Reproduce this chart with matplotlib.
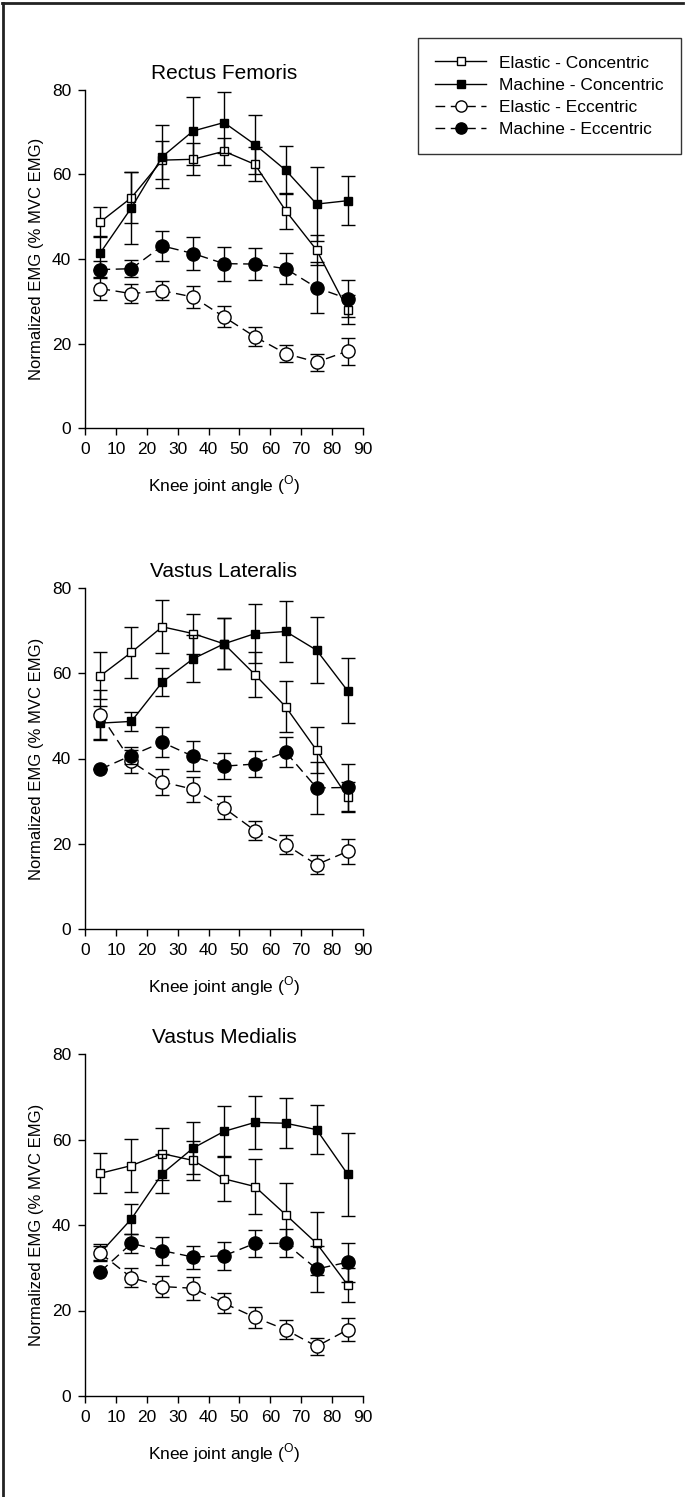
import matplotlib
matplotlib.use("Agg")
import matplotlib.pyplot as plt
from matplotlib.lines import Line2D
import numpy as np

plt.rcParams['font.family'] = ['Liberation Sans', 'DejaVu Sans']
plt.rcParams['mathtext.fontset'] = 'custom'
plt.rcParams['mathtext.rm'] = 'Liberation Sans'

angles = [5, 15, 25, 35, 45, 55, 65, 75, 85]
series_names = ["Elastic - Concentric", "Machine - Concentric",
                "Elastic - Eccentric", "Machine - Eccentric"]
muscles = ["Rectus Femoris", "Vastus Lateralis", "Vastus Medialis"]

# Rectus Femoris
rf_el_con = [48.8, 54.5, 63.4, 63.6, 65.5, 62.4, 51.4, 42.1, 28.0]
rf_el_con_err = [3.5, 6.0, 4.5, 3.8, 3.2, 4.0, 4.2, 3.5, 3.5]
rf_ma_con = [41.5, 52.1, 64.2, 70.3, 72.3, 67.1, 61.0, 53.0, 53.8]
rf_ma_con_err = [4.0, 8.5, 7.5, 8.0, 7.2, 7.0, 5.7, 8.8, 5.8]
rf_el_ecc = [33.0, 31.8, 32.5, 31.0, 26.3, 21.6, 17.6, 15.6, 18.2]
rf_el_ecc_err = [2.8, 2.2, 2.3, 2.7, 2.5, 2.3, 2.0, 2.0, 3.2]
rf_ma_ecc = [37.5, 37.7, 43.1, 41.3, 38.9, 38.8, 37.7, 33.2, 30.6]
rf_ma_ecc_err = [2.0, 2.0, 3.5, 3.8, 4.0, 3.7, 3.7, 6.0, 4.4]

# Vastus Lateralis
vl_el_con = [59.4, 64.9, 70.9, 69.3, 66.9, 59.7, 52.1, 41.9, 31.0]
vl_el_con_err = [5.5, 5.9, 6.2, 4.7, 6.0, 5.3, 6.0, 5.4, 3.5]
vl_ma_con = [48.3, 48.7, 57.9, 63.4, 66.9, 69.3, 69.8, 65.4, 55.9]
vl_ma_con_err = [4.0, 2.2, 3.3, 5.5, 6.0, 6.9, 7.2, 7.7, 7.6]
vl_el_ecc = [50.3, 39.3, 34.5, 32.8, 28.4, 23.1, 19.8, 15.1, 18.2]
vl_el_ecc_err = [5.8, 2.7, 3.0, 2.9, 2.7, 2.2, 2.3, 2.2, 3.0]
vl_ma_ecc = [37.5, 40.7, 43.8, 40.5, 38.2, 38.7, 41.5, 33.1, 33.2]
vl_ma_ecc_err = [0.0, 2.0, 3.5, 3.5, 3.1, 3.1, 3.6, 6.1, 5.4]

# Vastus Medialis
vm_el_con = [52.1, 53.9, 56.7, 55.1, 50.8, 49.0, 42.4, 35.7, 26.0]
vm_el_con_err = [4.7, 6.2, 6.1, 4.5, 5.3, 6.4, 7.4, 7.3, 3.9]
vm_ma_con = [33.5, 41.4, 52.0, 58.0, 61.9, 64.0, 63.8, 62.3, 51.9]
vm_ma_con_err = [2.0, 3.5, 4.5, 6.0, 6.0, 6.2, 5.8, 5.7, 9.7]
vm_el_ecc = [33.4, 27.7, 25.6, 25.2, 21.7, 18.4, 15.5, 11.6, 15.5]
vm_el_ecc_err = [1.7, 2.2, 2.5, 2.7, 2.4, 2.4, 2.2, 1.9, 2.7]
vm_ma_ecc = [29.1, 35.7, 34.0, 32.5, 32.8, 35.7, 35.7, 29.7, 31.3]
vm_ma_ecc_err = [0.0, 2.3, 3.3, 2.7, 3.3, 3.2, 3.3, 5.3, 4.6]

panel_data = [
    [(rf_el_con, rf_el_con_err), (rf_ma_con, rf_ma_con_err),
     (rf_el_ecc, rf_el_ecc_err), (rf_ma_ecc, rf_ma_ecc_err)],
    [(vl_el_con, vl_el_con_err), (vl_ma_con, vl_ma_con_err),
     (vl_el_ecc, vl_el_ecc_err), (vl_ma_ecc, vl_ma_ecc_err)],
    [(vm_el_con, vm_el_con_err), (vm_ma_con, vm_ma_con_err),
     (vm_el_ecc, vm_el_ecc_err), (vm_ma_ecc, vm_ma_ecc_err)],
]

styles = [
    dict(marker='s', mfc='white', mec='black', ms=6, ls='-'),
    dict(marker='s', mfc='black', mec='black', ms=6, ls='-'),
    dict(marker='o', mfc='white', mec='black', ms=9.5, ls=(0, (7, 4))),
    dict(marker='o', mfc='black', mec='black', ms=9.5, ls=(0, (7, 4))),
]
zorders = [3, 4, 5, 6]

W, H = 685, 1497
fig = plt.figure(figsize=(W / 100, H / 100), dpi=100)

# (left, top, right, bottom) pixel boxes
boxes = [(85, 90, 363, 428), (85, 588, 363, 929), (85, 1054, 363, 1396)]

handles = []
for p, (l, t, r, b) in enumerate(boxes):
    ax = fig.add_axes([l / W, 1 - b / H, (r - l) / W, (b - t) / H])
    for k, (vals, errs) in enumerate(panel_data[p]):
        st = styles[k]
        ax.errorbar(angles, vals, yerr=errs, color='black', lw=1.0,
                    elinewidth=1.0, capsize=4.8, capthick=1.0,
                    marker=st['marker'], mfc=st['mfc'], mec=st['mec'],
                    ms=st['ms'], mew=1.0, ls=st['ls'],
                    zorder=zorders[k], clip_on=False)
        if p == 0:
            handles.append(Line2D([], [], color='black', lw=1.0, ls=st['ls'],
                                  marker=st['marker'], mfc=st['mfc'],
                                  mec=st['mec'], ms=st['ms'] * 0.85, mew=1.0))
    ax.set_xlim(0, 90)
    ax.set_ylim(0, 80)
    ax.set_xticks(range(0, 91, 10))
    ax.set_yticks(range(0, 81, 20))
    ax.spines['top'].set_visible(False)
    ax.spines['right'].set_visible(False)
    ax.spines['left'].set_linewidth(1.0)
    ax.spines['bottom'].set_linewidth(1.0)
    ax.tick_params(direction='out', length=5, width=1.0, labelsize=12.5,
                   pad=5)
    ax.set_title(muscles[p], fontsize=15, pad=8)
    ax.set_ylabel('Normalized EMG (% MVC EMG)', fontsize=12, labelpad=6)
    ax.set_xlabel(r'Knee joint angle ($^{\mathrm{O}}$)', fontsize=12.5,
                  labelpad=12)

leg = fig.legend(handles, series_names, loc='upper left',
                 bbox_to_anchor=(418 / W, 1 - 38 / H), fontsize=12.5,
                 frameon=True, fancybox=False, edgecolor='black',
                 handlelength=2.9, borderpad=1.0, labelspacing=0.4,
                 handletextpad=0.75, borderaxespad=0)
leg.get_frame().set_linewidth(1.0)

# figure border (top and left)
fig.add_artist(Line2D([2 / W, 683 / W], [1 - 3 / H, 1 - 3 / H],
                      color='#222222', lw=2.0, transform=fig.transFigure))
fig.add_artist(Line2D([3 / W, 3 / W], [0, 1 - 3 / H],
                      color='#222222', lw=2.0, transform=fig.transFigure))

fig.savefig('out.png', dpi=100)
